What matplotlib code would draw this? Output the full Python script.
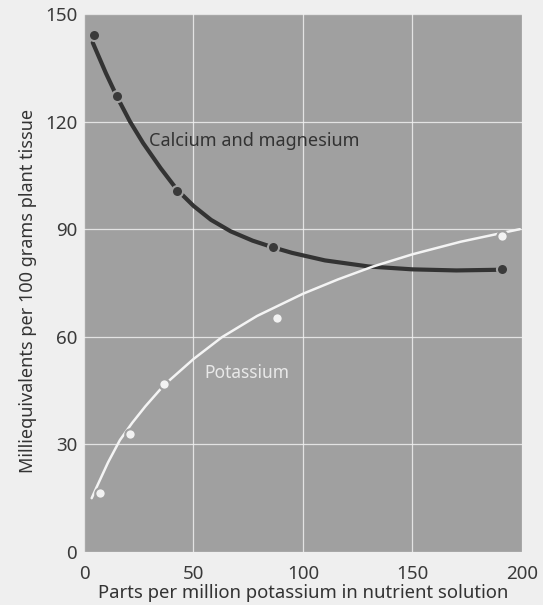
import matplotlib
matplotlib.use("Agg")
import matplotlib.pyplot as plt

# measured points
ca_x = [4.6, 15, 42.5, 86.5, 191]
ca_y = [144, 127, 100.6, 85, 78.8]
k_x = [7.3, 21, 36.5, 88, 191]
k_y = [16.4, 33, 46.8, 65.3, 88]

# fitted curves
ca_curve_x = [4, 10, 15, 21, 27, 35, 42.5, 50, 58, 67, 77, 86.5, 95, 110, 130, 150, 170, 191]
ca_curve_y = [142, 133.5, 127, 120, 114, 107, 101, 96.5, 92.6, 89.4, 86.8, 84.9, 83.4, 81.3, 79.6, 78.8, 78.5, 78.7]
k_curve_x = [3.5, 6, 11, 16.4, 22, 28, 36.5, 50, 63, 79, 100, 116, 132, 150, 172, 199]
k_curve_y = [15, 18.4, 25, 31.2, 36, 40.6, 46.5, 53.8, 59.9, 65.8, 72, 76, 79.6, 83, 86.5, 90]

xticks = [0, 50, 100, 150, 200]
yticks = [0, 30, 60, 90, 120, 150]

bg = "#a0a0a0"
plt.rcParams['font.family'] = ['Noto Sans', 'DejaVu Sans']

fig = plt.figure(figsize=(5.43, 6.05), dpi=100)
fig.patch.set_facecolor("#efefef")
ax = fig.add_axes([0.1547, 0.0876, 0.8066, 0.8893])
ax.set_facecolor(bg)

ax.plot(ca_curve_x, ca_curve_y, color="#333333", lw=3, solid_capstyle="round", zorder=3)
ax.plot(k_curve_x, k_curve_y, color="#f4f4f4", lw=1.8, solid_capstyle="round", zorder=3)
ax.plot(ca_x, ca_y, "o", ms=8, color="#3a3a3a", mec=bg, mew=1.5, zorder=4)
ax.plot(k_x, k_y, "o", ms=7.5, color="#f2f2f2", mec=bg, mew=1.5, zorder=4)

ax.text(77.8, 114.5, "Calcium and magnesium", color="#333333", fontsize=13,
        ha="center", va="center")
ax.text(74.5, 50, "Potassium", color="#e8e8e8", fontsize=12.5,
        ha="center", va="center")

ax.set_xlim(0, 200)
ax.set_ylim(0, 150)
ax.set_xticks(xticks)
ax.set_yticks(yticks)
ax.grid(True, color="#f0f0f0", lw=0.9, alpha=0.85)
ax.set_axisbelow(True)
ax.tick_params(length=0, labelsize=13.5, colors="#3a3a3a", pad=5)
ax.tick_params(axis="x", pad=9)
for s in ax.spines.values():
    s.set_visible(False)

ax.set_xlabel("Parts per million potassium in nutrient solution", fontsize=13.3,
              color="#333333", labelpad=1)
ax.set_ylabel("Milliequivalents per 100 grams plant tissue", fontsize=13,
              color="#333333")
ax.yaxis.set_label_coords(-0.108, 0.485)

fig.savefig("out.png", dpi=100, facecolor=fig.get_facecolor())
